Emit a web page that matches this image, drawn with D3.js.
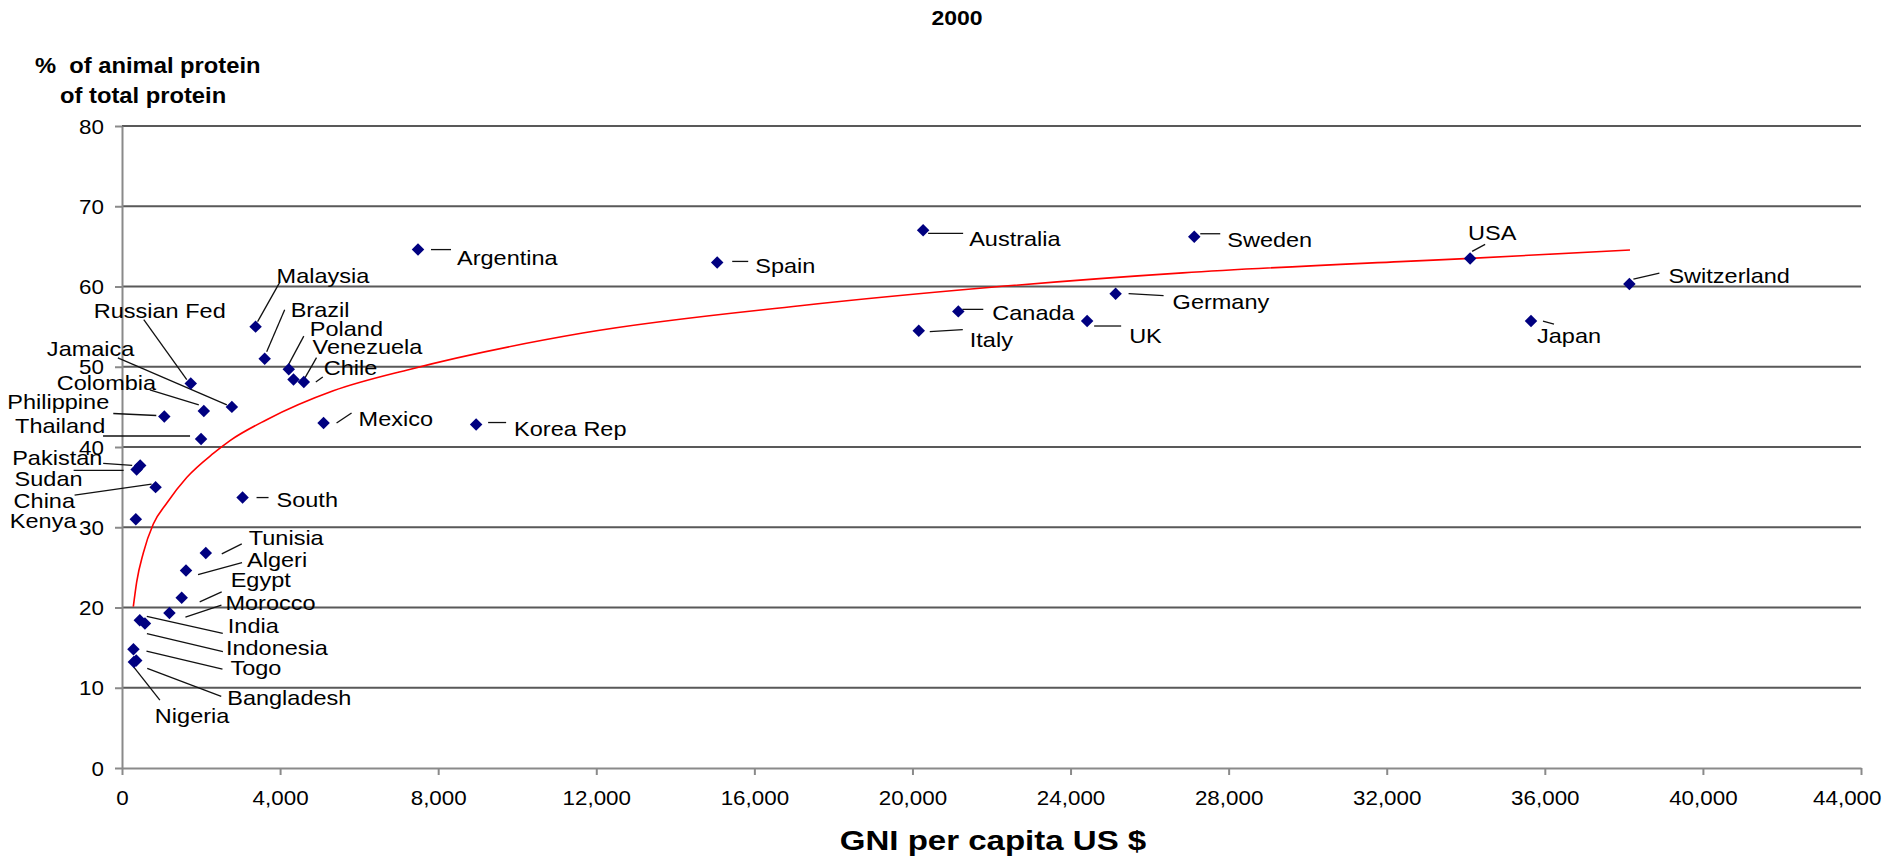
<!DOCTYPE html>
<html>
<head>
<meta charset="utf-8">
<script src="https://cdn.jsdelivr.net/npm/d3@7"></script>
<style>
    html, body { margin: 0; padding: 0; background: #fff; }
    svg { display: block; font-family: "Liberation Sans", Arial, Helvetica, sans-serif; }
</style>
</head>
<body>
<svg id="chart" width="1886" height="859"></svg>
<script>
'use strict';

// values (year 2000)
const countries = ["Argentina", "Spain", "Australia", "Sweden", "USA", "Switzerland", "Japan", "Germany",
    "Canada", "UK", "Italy", "Korea Rep", "Mexico", "South", "Malaysia", "Brazil", "Poland", "Venezuela",
    "Chile", "Russian Fed", "Jamaica", "Colombia", "Philippine", "Thailand", "Pakistan", "Sudan", "China",
    "Kenya", "Tunisia", "Algeri", "Egypt", "Morocco", "India", "Indonesia", "Togo", "Bangladesh", "Nigeria"];
const gniPerCapita = [7490, 15060, 20270, 27130, 34110, 38140, 35650, 25140, 21160, 24420, 20160, 8960,
    5100, 3050, 3380, 3610, 4220, 4340, 4600, 1740, 2780, 2070, 1070, 2000, 460, 370, 850, 350, 2120,
    1620, 1510, 1200, 450, 580, 290, 360, 300];
const animalShare = [64.6, 63.0, 67.0, 66.2, 63.5, 60.3, 55.7, 59.1, 56.9, 55.7, 54.5, 42.8, 43.0, 33.7,
    55.0, 51.0, 49.7, 48.4, 48.1, 47.9, 45.0, 44.5, 43.8, 41.0, 37.7, 37.2, 35.0, 31.0, 26.8, 24.6, 21.2,
    19.3, 18.4, 18.0, 14.8, 13.4, 13.2];

// red trend curve, points read along it
const trendGni = [286, 372, 539, 792, 1131, 1637, 2310, 2733, 3661, 5346, 7300, 11657, 17155, 21995,
    26838, 32336, 34110, 38155];
const trendShare = [20.1, 23.2, 26.8, 30.4, 33.0, 36.2, 39.2, 40.8, 43.4, 47.0, 49.7, 54.2, 57.6, 59.9,
    61.7, 63.1, 63.5, 64.55];

const xTicks = d3.range(0, 44001, 4000);
const yTicks = d3.range(0, 81, 10);

// label placement in px relative to the marker: [textDx, textDy, lineX1, lineY1, lineX2, lineY2]
const labelOffsets = {
    "Argentina": [39, 15, 13, 0, 33, 0],
    "Spain": [38, 11, 15, -1, 31, -1],
    "Australia": [46, 16, 5, 3, 40, 3],
    "Sweden": [33, 10, 6, -3, 26, -3],
    "USA": [-2, -18, 2, -7, 15, -14],
    "Switzerland": [39, -1, 4, -5, 30, -11],
    "Japan": [6, 22, 12, 0, 23, 3],
    "Germany": [57, 15, 13, 0, 48, 2],
    "Canada": [34, 9, 4, -2, 25, -2],
    "UK": [42, 22, 7, 5, 34, 5],
    "Italy": [51, 16, 11, 1, 44, -1],
    "Korea Rep": [38, 11, 12, -2, 30, -2],
    "Mexico": [35, 3, 13, 0, 28, -10],
    "South": [34, 9, 14, 0, 26, 0],
    "Malaysia": [21, -44, 2, -5, 24, -44],
    "Brazil": [26, -42, 2, -7, 20, -49],
    "Poland": [21, -33, 0, -5, 15, -33],
    "Venezuela": [19, -26, 11, -1, 23, -22],
    "Chile": [20, -7, 12, 0, 19, -5],
    "Russian Fed": [-97, -66, -47, -64, -4, -4],
    "Jamaica": [-185, -51, -114, -49, -5, -2],
    "Colombia": [-147, -21, -54, -21, -5, -6],
    "Philippine": [-157, -8, -51, -3, -8, -1],
    "Thailand": [-186, -6, -98, -3, -11, -3],
    "Pakistan": [-128, 0, -37, -2, -8, 0],
    "Sudan": [-122, 17, -63, 1, -13, 1],
    "China": [-142, 21, -81, 8, -4, -3],
    "Kenya": [-126, 9],
    "Tunisia": [43, -8, 16, 1, 36, -9],
    "Algeri": [61, -4, 12, 4, 56, -8],
    "Egypt": [49, -11, 18, 4, 40, -6],
    "Morocco": [56, -3, 16, 4, 52, -8],
    "India": [88, 13, 7, -4, 83, 13],
    "Indonesia": [81, 31, 2, 10, 78, 28],
    "Togo": [97, 26, 13, 2, 89, 20],
    "Bangladesh": [91, 45, 11, 8, 85, 36],
    "Nigeria": [21, 61, 0, 5, 26, 38]
};

const _stretch = 1.12;   // source text is a bit wider than the fonts we have
const _gridColor = "#595959";
const _axisColor = "#8a8a8a";

const svg = d3.select("#chart");

const x = d3.scaleLinear().domain([0, 44000]).range([122, 1861]);
const y = d3.scaleLinear().domain([0, 80]).range([768, 126]);

function placeText(sel, px, py, k) {
    return sel.attr("transform", "translate(" + px + "," + py + ") scale(" + k + ",1)");
}

//Gridlines
svg.append("g")
    .selectAll("line")
    .data(yTicks.filter(function (v) { return v > 0; }))
    .join("line")
    .attr("x1", x(0))
    .attr("x2", x(44000))
    .attr("y1", function (v) { return y(v); })
    .attr("y2", function (v) { return y(v); })
    .attr("stroke", _gridColor)
    .attr("stroke-width", 2);

//Axes
const yAxisG = svg.append("g")
    .attr("transform", "translate(" + x(0) + ",0)")
    .call(d3.axisLeft(y).tickValues(yTicks).tickSize(7).tickSizeOuter(0).tickFormat(d3.format("d")));
const xAxisG = svg.append("g")
    .attr("transform", "translate(0," + y(0) + ")")
    .call(d3.axisBottom(x).tickValues(xTicks).tickSize(7).tickSizeOuter(0).tickFormat(d3.format(",")));

[yAxisG, xAxisG].forEach(function (g) {
    g.select(".domain").attr("stroke", _axisColor).attr("stroke-width", 2);
    g.selectAll(".tick line").attr("stroke", _axisColor).attr("stroke-width", 2);
    g.selectAll(".tick text")
        .attr("fill", "#000")
        .attr("font-size", 20)
        .attr("font-family", "Liberation Sans, Arial, sans-serif")
        .attr("transform", "scale(" + _stretch + ",1)");
});
yAxisG.selectAll(".tick text").attr("x", -18 / _stretch).attr("dy", "0.35em");
xAxisG.selectAll(".tick text").attr("y", 37).attr("dy", 0);
// last label is pulled in so it stays inside the picture
xAxisG.selectAll(".tick text")
    .filter(function (d) { return d === 44000; })
    .attr("text-anchor", "end")
    .attr("x", 20 / _stretch);

//Trend curve
const trend = d3.line()
    .x(function (d, i) { return x(trendGni[i]); })
    .y(function (d, i) { return y(trendShare[i]); })
    .curve(d3.curveMonotoneX);
svg.append("path")
    .attr("d", trend(trendGni))
    .attr("fill", "none")
    .attr("stroke", "#ff0000")
    .attr("stroke-width", 1.6);

//Points and labels
const points = countries.map(function (name, i) {
    return {name: name, px: x(gniPerCapita[i]), py: y(animalShare[i]), off: labelOffsets[name]};
});

svg.append("g")
    .selectAll("line")
    .data(points.filter(function (p) { return p.off.length > 2; }))
    .join("line")
    .attr("x1", function (p) { return p.px + p.off[2]; })
    .attr("y1", function (p) { return p.py + p.off[3]; })
    .attr("x2", function (p) { return p.px + p.off[4]; })
    .attr("y2", function (p) { return p.py + p.off[5]; })
    .attr("stroke", "#111")
    .attr("stroke-width", 1.3);

const diamond = d3.symbol().type(d3.symbolSquare).size(78);
svg.append("g")
    .selectAll("path")
    .data(points)
    .join("path")
    .attr("d", diamond)
    .attr("transform", function (p) { return "translate(" + p.px + "," + p.py + ") rotate(45)"; })
    .attr("fill", "#000080");

svg.append("g")
    .selectAll("text")
    .data(points)
    .join("text")
    .text(function (p) { return p.name; })
    .attr("font-size", 21)
    .attr("fill", "#000")
    .each(function (p) {
        placeText(d3.select(this), p.px + p.off[0], p.py + p.off[1], _stretch);
    });

//Titles
placeText(svg.append("text").text("2000")
    .attr("font-size", 20).attr("font-weight", "bold").attr("text-anchor", "middle"), 957, 25, 1.15);
placeText(svg.append("text").text("%  of animal protein")
    .attr("font-size", 22).attr("font-weight", "bold").attr("xml:space", "preserve")
    .style("white-space", "pre"), 35, 73, 1.08);
placeText(svg.append("text").text("of total protein")
    .attr("font-size", 22).attr("font-weight", "bold"), 60, 103, 1.08);
placeText(svg.append("text").text("GNI per capita US $")
    .attr("font-size", 28).attr("font-weight", "bold").attr("text-anchor", "middle"), 993, 850, 1.18);
</script>
</body>
</html>
